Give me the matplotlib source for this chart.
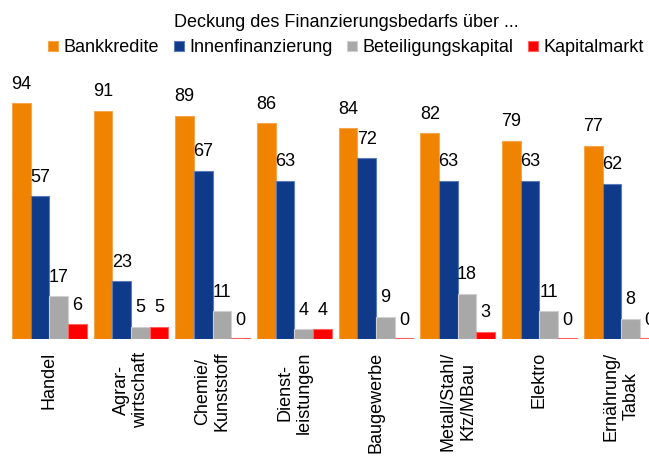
import matplotlib.pyplot as plt
import numpy as np

plt.rcParams['font.family'] = ['Liberation Sans', 'DejaVu Sans']

categories = ['Handel', 'Agrar-\nwirtschaft', 'Chemie/\nKunststoff', 'Dienst-\nleistungen',
              'Baugewerbe', 'Metall/Stahl/\nKfz/MBau', 'Elektro', 'Ernährung/\nTabak']
bankkredite = [94, 91, 89, 86, 84, 82, 79, 77]
innenfinanzierung = [57, 23, 67, 63, 72, 63, 63, 62]
beteiligungskapital = [17, 5, 11, 4, 9, 18, 11, 8]
kapitalmarkt = [6, 5, 0, 4, 0, 3, 0, 0]

series = [
    ('Bankkredite', bankkredite, '#F08300', '#F5A64D'),
    ('Innenfinanzierung', innenfinanzierung, '#0F3A8A', '#5A7AB8'),
    ('Beteiligungskapital', beteiligungskapital, '#A8A8A8', '#CFCFCF'),
    ('Kapitalmarkt', kapitalmarkt, '#FF0000', '#FF6060'),
]

fig = plt.figure(figsize=(6.49, 4.57), dpi=100)
ax = fig.add_axes([0.013, 0.258, 1.007, 0.549])

x = np.arange(len(categories))
w = 0.228
for i, (name, vals, fc, ec) in enumerate(series):
    pos = x + (i - 1.5) * w
    # zero values still show as a thin line, like the original
    ax.bar(pos, np.maximum(vals, 0.5), w, color=fc, edgecolor=ec, linewidth=0.8, label=name)
    for p, v in zip(pos, vals):
        ax.text(p, v + 4.2, str(v), ha='center', va='bottom', fontsize=13)

ax.set_xlim(-0.5, len(categories) - 0.5)
ax.set_ylim(0, 100)
ax.set_yticks([])
ax.set_xticks(x)
ax.set_xticklabels(categories, rotation=90, fontsize=13, va='top', ha='center', multialignment='center')
ax.tick_params(axis='x', length=0, pad=9)
for s in ax.spines.values():
    s.set_visible(False)

leg = fig.legend(loc='upper center', bbox_to_anchor=(0.533, 0.985), ncol=4, frameon=False,
                 title='Deckung des Finanzierungsbedarfs über ...', title_fontsize=13, fontsize=13,
                 handlelength=0.55, handleheight=0.55, handletextpad=0.3, columnspacing=0.8,
                 borderaxespad=0, labelspacing=0.2)
leg._legend_box.sep = 6

fig.savefig('out.png', dpi=100)
